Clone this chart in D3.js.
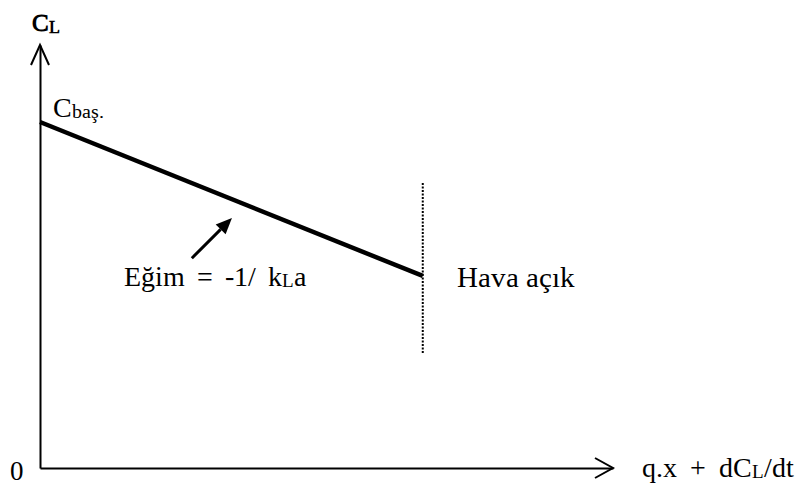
<!DOCTYPE html>
<html>
<head>
<meta charset="utf-8">
<script src="https://cdn.jsdelivr.net/npm/d3@7"></script>
<style>
  @font-face { font-family: "ChartSerif"; src: local("Liberation Serif"), local("LiberationSerif"), local("Times New Roman"); }
  svg text, svg tspan { font-family: "ChartSerif", "Liberation Serif", "Times New Roman", serif !important; }
</style>
</head>
<body style="margin:0">
<svg id="chart" width="804" height="491"></svg>
<script>
// ---- data (arbitrary schematic units) ----
const xDomain = [0, 100];
const yDomain = [0, 100];
const lineX = [0, 66.8];
const lineY = [81.8, 45.4];
const airOnX = 66.8;
const airOnY = [67.4, 27.2];
const slopeArrowFrom = [26.5, 49.6];
const slopeArrowTo = [33.5, 59.1];
const originLabel = "0";
const yLabel = ["C", "L"];
const xLabel = ["q.x + dC", "L", "/dt"];
const startLabel = ["C", "baş."];
const slopeLabel = ["Eğim = -1/ k", "L", "a"];
const airLabel = "Hava açık";

const svg = d3.select("#chart");
const x = d3.scaleLinear().domain(xDomain).range([40, 613]);
const y = d3.scaleLinear().domain(yDomain).range([468, 45]);

function subText(px, py, parts, size, subSize, subDy) {
  const t = svg.append("text").attr("x", px).attr("y", py).attr("font-size", size)
    .attr("font-family", "serif");
  t.append("tspan").text(parts[0]);
  t.append("tspan").attr("dy", subDy).attr("font-size", subSize).text(parts[1]);
  if (parts[2]) t.append("tspan").attr("dy", -subDy).text(parts[2]);
  return t;
}
svg.append("text").attr("x", 10).attr("y", 480).attr("font-size", 27)
  .attr("font-family", "serif").text(originLabel);
subText(x(0) - 8, 31, yLabel, 25, 18, 2).attr("font-weight", "bold");
subText(x(0) + 13, 117, startLabel, 28, 20, 1);
subText(642, 477, xLabel, 28, 19, 1).attr("word-spacing", 6);
subText(124, 286, slopeLabel, 28, 19, 1).attr("word-spacing", 5);
svg.append("text").attr("x", 457).attr("y", 287).attr("font-size", 29)
  .attr("font-family", "serif").text(airLabel);

// axes (no ticks)
svg.append("g").attr("transform", `translate(0,${y(0)})`)
  .call(d3.axisBottom(x).tickValues([]).tickSizeOuter(0));
svg.append("g").attr("transform", `translate(${x(0)},0)`)
  .call(d3.axisLeft(y).tickValues([]).tickSizeOuter(0));
svg.selectAll(".domain").attr("stroke", "#000").attr("stroke-width", 2);

// open arrowheads on axes
const xe = x(xDomain[1]), ye = y(yDomain[1]);
svg.append("path")
  .attr("d", `M${xe - 18},${y(0) - 10}L${xe},${y(0)}L${xe - 18},${y(0) + 10}`)
  .attr("fill", "none").attr("stroke", "#000").attr("stroke-width", 2);
svg.append("path")
  .attr("d", `M${x(0) - 9},${ye + 20}L${x(0)},${ye}L${x(0) + 9},${ye + 20}`)
  .attr("fill", "none").attr("stroke", "#000").attr("stroke-width", 2);

// main line
svg.append("path")
  .datum(lineX.map((d, i) => [d, lineY[i]]))
  .attr("d", d3.line().x(d => x(d[0])).y(d => y(d[1])))
  .attr("fill", "none").attr("stroke", "#000").attr("stroke-width", 4.5);

// dotted air-on marker
svg.append("line")
  .attr("x1", x(airOnX)).attr("x2", x(airOnX))
  .attr("y1", y(airOnY[0])).attr("y2", y(airOnY[1]))
  .attr("stroke", "#000").attr("stroke-width", 2).attr("stroke-dasharray", "2,1.5");

// slope arrow
const ax0 = x(slopeArrowFrom[0]), ay0 = y(slopeArrowFrom[1]);
const ax1 = x(slopeArrowTo[0]), ay1 = y(slopeArrowTo[1]);
const ang = Math.atan2(ay1 - ay0, ax1 - ax0);
const hl = 16, hw = 7;
const bx = ax1 - hl * Math.cos(ang), by = ay1 - hl * Math.sin(ang);
svg.append("line")
  .attr("x1", ax0).attr("y1", ay0).attr("x2", bx).attr("y2", by)
  .attr("stroke", "#000").attr("stroke-width", 3);
svg.append("path")
  .attr("d", `M${ax1},${ay1}L${bx + hw * Math.sin(ang)},${by - hw * Math.cos(ang)}L${bx - hw * Math.sin(ang)},${by + hw * Math.cos(ang)}Z`)
  .attr("fill", "#000");
</script>
</body>
</html>
